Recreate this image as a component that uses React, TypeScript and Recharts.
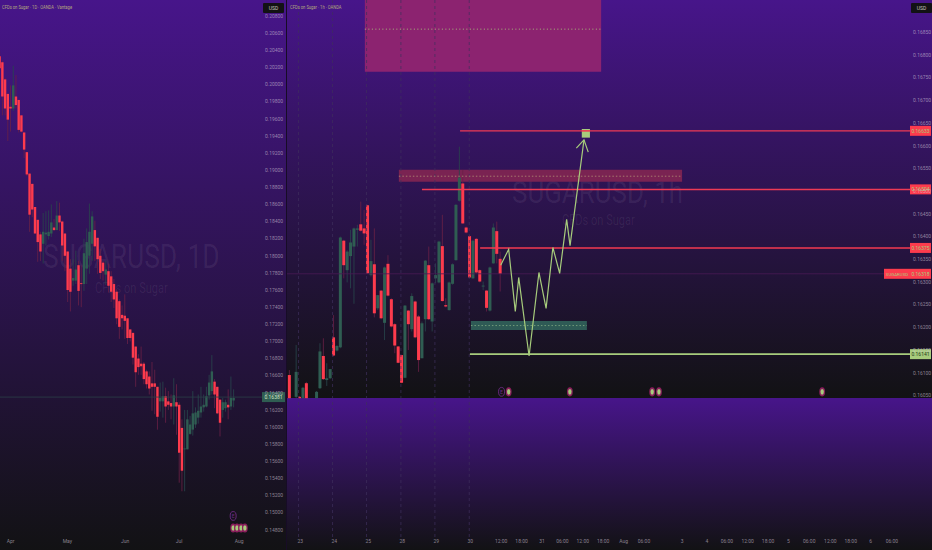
import {
  ComposedChart,
  Bar,
  Line,
  XAxis,
  YAxis,
  ReferenceArea,
  ReferenceDot,
  ReferenceLine,
} from "recharts";

const RED = "#fd3b4d";
const GREEN = "#2f5d52";
const LIME = "#a7cc7c";
const FONT = "Roboto, sans-serif";

// daily candles, left pane
const dayOpen = [
  0.2033, 0.2026, 0.2006, 0.1989, 0.1974, 0.1972, 0.1986, 0.1982, 0.1964, 0.1944, 0.1921, 0.1896, 0.1884, 0.1857, 0.1842,
  0.1825, 0.1814, 0.1825, 0.1823, 0.1826, 0.1833, 0.183, 0.1847, 0.184, 0.1826, 0.1805, 0.1785, 0.1771, 0.1771, 0.1789,
  0.1768, 0.1767, 0.1785, 0.18, 0.1814, 0.183, 0.1821, 0.18, 0.1792, 0.1778, 0.1782, 0.1776, 0.1767, 0.1758, 0.1747,
  0.1731, 0.173, 0.1727, 0.1714, 0.171, 0.1694, 0.168, 0.1674, 0.1674, 0.1665, 0.1659, 0.1651, 0.1651, 0.1647, 0.163,
  0.163, 0.1636, 0.163, 0.1628, 0.1624, 0.1629, 0.1626, 0.1599, 0.1574, 0.1574, 0.1592, 0.1597, 0.1603, 0.1611, 0.1617,
  0.1623, 0.1624, 0.1637, 0.1642, 0.1653, 0.1647, 0.1632, 0.162, 0.1622, 0.1626, 0.1624, 0.1631,
];
const dayClose = [
  0.2019, 0.1986, 0.1972, 0.1959, 0.1972, 0.1999, 0.1976, 0.1947, 0.1945, 0.1924, 0.1895, 0.1848, 0.1854, 0.1826, 0.1816,
  0.1805, 0.1828, 0.1827, 0.1828, 0.1839, 0.183, 0.1847, 0.1839, 0.1812, 0.18, 0.176, 0.1758, 0.1774, 0.1784, 0.1759,
  0.1767, 0.1803, 0.1816, 0.1828, 0.1846, 0.1811, 0.1796, 0.178, 0.1782, 0.1784, 0.1765, 0.1758, 0.1749, 0.1727, 0.1717,
  0.1727, 0.1724, 0.1704, 0.1704, 0.1681, 0.1664, 0.167, 0.1671, 0.1656, 0.165, 0.1645, 0.1647, 0.1647, 0.1612, 0.1634,
  0.1636, 0.1624, 0.1626, 0.1624, 0.1637, 0.1624, 0.157, 0.1549, 0.1575, 0.1609, 0.1603, 0.1616, 0.1617, 0.1619, 0.1624,
  0.1626, 0.1636, 0.1652, 0.1665, 0.1638, 0.1616, 0.1605, 0.1629, 0.1629, 0.1623, 0.1634, 0.1634,
];
const dayHigh = [
  0.2039, 0.2028, 0.2008, 0.199, 0.1999, 0.2022, 0.2011, 0.1982, 0.1964, 0.1944, 0.1921, 0.1896, 0.1884, 0.1857, 0.1842,
  0.1828, 0.185, 0.1852, 0.1853, 0.186, 0.1843, 0.1864, 0.1862, 0.1841, 0.1826, 0.1805, 0.1796, 0.1796, 0.1806, 0.1794,
  0.1789, 0.182, 0.1832, 0.1861, 0.1852, 0.1841, 0.1821, 0.1808, 0.1794, 0.1794, 0.1791, 0.1782, 0.1773, 0.1761, 0.1749,
  0.1742, 0.1755, 0.1727, 0.1714, 0.171, 0.1694, 0.1685, 0.1694, 0.1676, 0.1667, 0.1665, 0.1676, 0.1667, 0.1647, 0.1652,
  0.1653, 0.1646, 0.1642, 0.1638, 0.1657, 0.165, 0.1629, 0.1609, 0.162, 0.162, 0.1613, 0.1642, 0.1623, 0.1638, 0.1647,
  0.1638, 0.1647, 0.1661, 0.1684, 0.1656, 0.1647, 0.1632, 0.1634, 0.1632, 0.1644, 0.1659, 0.1644,
];
const dayLow = [
  0.2017, 0.1964, 0.1964, 0.1934, 0.1945, 0.1969, 0.1972, 0.1944, 0.1944, 0.1914, 0.1893, 0.1828, 0.1845, 0.1826, 0.1793,
  0.1794, 0.1791, 0.1812, 0.1819, 0.1822, 0.1829, 0.183, 0.1829, 0.1794, 0.1782, 0.1746, 0.1735, 0.1765, 0.1767, 0.1742,
  0.174, 0.1759, 0.1767, 0.1779, 0.1794, 0.1794, 0.1779, 0.1773, 0.1771, 0.1766, 0.1757, 0.1746, 0.1739, 0.172, 0.1703,
  0.1714, 0.1703, 0.1697, 0.17, 0.1673, 0.1647, 0.1661, 0.1661, 0.165, 0.1645, 0.1638, 0.1619, 0.1615, 0.1597, 0.1618,
  0.1611, 0.1605, 0.162, 0.1609, 0.1603, 0.1591, 0.1535, 0.1525, 0.1525, 0.1574, 0.1591, 0.159, 0.1599, 0.1604, 0.1611,
  0.1618, 0.1623, 0.1632, 0.1638, 0.1622, 0.1615, 0.1589, 0.1611, 0.1618, 0.1609, 0.162, 0.1623,
];

const dayPriceTicks = [
  0.148, 0.15, 0.152, 0.154, 0.156, 0.158, 0.16, 0.162, 0.164, 0.166, 0.168, 0.17, 0.172, 0.174, 0.176, 0.178, 0.18, 0.182,
  0.184, 0.186, 0.188, 0.19, 0.192, 0.194, 0.196, 0.198, 0.2, 0.202, 0.204, 0.206, 0.208,
];
const dayTimeTicks = [3.9, 24.8, 46, 65.8, 87.9];
const dayTimeLabels = ["Apr", "May", "Jun", "Jul", "Aug"];
const dayEventX = [85.7, 87.1, 88.6, 90];

// hourly candles, right pane (slot = bar position on the time axis)
const hourSlot = [
  0.7, 2.7, 3.7, 4.7, 5.7, 8.7, 9.7, 10.7, 11.7, 12.7, 13.7, 14.7, 15.7, 16.7, 17.7, 18.7, 19.7, 20.7, 21.7, 22.7, 23.7,
  24.7, 25.7, 26.7, 27.7, 28.7, 29.7, 30.7, 31.7, 32.7, 33.7, 34.7, 35.7, 36.7, 37.7, 38.7, 39.7, 40.7, 41.7, 42.7, 43.7,
  44.7, 45.7, 46.7, 47.7, 48.7, 49.7, 50.7, 51.7, 52.7, 53.7, 54.7, 55.7, 56.7, 57.7, 58.7, 59.7, 60.7, 61.7, 62.7,
];
const hourOpen = [
  0.16095, 0.16047, 0.16047, 0.16044, 0.16077, 0.16044, 0.16066, 0.16137, 0.16084, 0.16088, 0.16178, 0.16149, 0.16156,
  0.16391, 0.16326, 0.16357, 0.16378, 0.16415, 0.16427, 0.16418, 0.16469, 0.16315, 0.16339, 0.16242, 0.16281, 0.1621,
  0.1634, 0.16262, 0.16207, 0.16158, 0.16139, 0.16089, 0.16237, 0.16196, 0.16257, 0.16224, 0.16132, 0.16218, 0.16337,
  0.16213, 0.16308, 0.16299, 0.16379, 0.16249, 0.16238, 0.16296, 0.16348, 0.16479, 0.16517, 0.1642, 0.16401, 0.16308,
  0.16395, 0.16326, 0.16291, 0.16281, 0.16237, 0.16341, 0.16412, 0.16351,
];
const hourClose = [
  0.16044, 0.16102, 0.16044, 0.16067, 0.16044, 0.16058, 0.16147, 0.16086, 0.16088, 0.16108, 0.16138, 0.16159, 0.16398,
  0.16337, 0.16367, 0.16387, 0.16418, 0.16418, 0.16413, 0.16407, 0.16319, 0.16346, 0.16231, 0.16271, 0.1622, 0.16332,
  0.1627, 0.16202, 0.1616, 0.16122, 0.16078, 0.16248, 0.16207, 0.16269, 0.16178, 0.16128, 0.16209, 0.16347, 0.16218,
  0.16297, 0.16315, 0.16389, 0.16258, 0.16246, 0.16299, 0.16339, 0.1647, 0.1653, 0.16429, 0.16409, 0.1631, 0.16391,
  0.16321, 0.16301, 0.16292, 0.16243, 0.16332, 0.1642, 0.16362, 0.16318,
];
const hourHigh = [
  0.16106, 0.16161, 0.16049, 0.16069, 0.1608, 0.1606, 0.16165, 0.16176, 0.16121, 0.16108, 0.16227, 0.16161, 0.164, 0.16393,
  0.1637, 0.16415, 0.1642, 0.16426, 0.16477, 0.16459, 0.1647, 0.16393, 0.16418, 0.16271, 0.16282, 0.16334, 0.16359,
  0.16264, 0.16209, 0.16159, 0.16139, 0.16249, 0.16238, 0.16275, 0.16259, 0.16227, 0.16213, 0.16348, 0.16378, 0.16299,
  0.16341, 0.16391, 0.16448, 0.16264, 0.16301, 0.16341, 0.16472, 0.16598, 0.16547, 0.16422, 0.16403, 0.16393, 0.16397,
  0.16328, 0.16301, 0.16282, 0.16334, 0.16429, 0.16433, 0.16367,
];
const hourLow = [
  0.16044, 0.16044, 0.16044, 0.16044, 0.16044, 0.16044, 0.16064, 0.16084, 0.16071, 0.16086, 0.16136, 0.16147, 0.16154,
  0.16308, 0.16299, 0.16286, 0.16252, 0.16378, 0.16411, 0.16382, 0.16318, 0.16312, 0.16222, 0.16238, 0.16218, 0.16172,
  0.16268, 0.162, 0.16143, 0.16121, 0.16077, 0.16088, 0.1615, 0.16191, 0.16176, 0.16102, 0.16132, 0.16191, 0.16216, 0.16191,
  0.16297, 0.16297, 0.16257, 0.16244, 0.16237, 0.16294, 0.16347, 0.16477, 0.16428, 0.16407, 0.16309, 0.16307, 0.16319,
  0.16299, 0.16282, 0.16235, 0.16235, 0.1634, 0.16341, 0.16279,
];

const hourPriceTicks = [
  0.1605, 0.161, 0.1615, 0.162, 0.1625, 0.163, 0.1635, 0.164, 0.1645, 0.165, 0.1655, 0.166, 0.1665, 0.167, 0.1675, 0.168,
  0.1685,
];
const hourTimeTicks = [
  3.9, 13.9, 23.9, 33.9, 43.9, 53.9, 63, 69, 75, 81, 87, 93, 99, 105, 116.2, 123.5, 129.4, 135.5, 141.5, 147.5, 153.6,
  159.8, 165.8, 171.7, 177.9,
];
const hourTimeLabels = [
  "23", "24", "25", "28", "29", "30", "12:00", "18:00", "31", "06:00", "12:00", "18:00", "Aug", "06:00", "3", "4", "06:00",
  "12:00", "18:00", "5", "06:00", "12:00", "18:00", "6", "06:00",
];
const sessionBreaks = [3.4, 13.4, 23.4, 33.5, 43.5, 53.6];
const hourEventX = [65.2, 83.2, 107.4, 109.4, 157.4];

// projected path drawn on the hourly pane
const pathX = [62.85, 65.2, 67.15, 68.15, 71.2, 74.1, 76.2, 78.2, 80.2, 82.25, 83.25, 87.35];
const pathPrice = [0.16337, 0.16372, 0.16235, 0.1631, 0.16137, 0.16321, 0.16242, 0.16376, 0.16319, 0.16438, 0.1638, 0.16613];
const arrowX = [85.1, 87.35, 88.6];
const arrowPrice = [0.16595, 0.16613, 0.16586];

const dayData = dayOpen.map((open, i) => ({
  x: i,
  open,
  close: dayClose[i],
  high: dayHigh[i],
  low: dayLow[i],
  range: [dayLow[i], dayHigh[i]],
}));
const hourData = hourOpen.map((open, i) => ({
  x: hourSlot[i],
  open,
  close: hourClose[i],
  high: hourHigh[i],
  low: hourLow[i],
  range: [hourLow[i], hourHigh[i]],
}));
const pathData = pathX.map((x, i) => ({ x, price: pathPrice[i] }));
const arrowData = arrowX.map((x, i) => ({ x, price: arrowPrice[i] }));

const candle = (bodyWidth: number) => (props: any) => {
  const { x, y, width, height, payload } = props;
  const { open, close, high, low } = payload;
  const top = Math.min(y, y + height);
  const span = Math.abs(height);
  const toY = (v: number) => top + ((high - v) / (high - low)) * span;
  const up = close >= open;
  const cx = x + width / 2;
  const bodyTop = toY(Math.max(open, close));
  const bodyH = Math.max(toY(Math.min(open, close)) - bodyTop, 0.9);
  return (
    <g>
      <line
        x1={cx}
        x2={cx}
        y1={top}
        y2={top + span}
        stroke={up ? "#28474c" : "#6b2146"}
        strokeWidth={0.8}
      />
      <rect x={cx - bodyWidth / 2} y={bodyTop} width={bodyWidth} height={bodyH} fill={up ? GREEN : RED} />
    </g>
  );
};

const EventMark = (props: any) => (
  <g>
    <ellipse cx={props.cx} cy={props.cy} rx={2.9} ry={4.6} fill="#8b1f5c" />
    <ellipse cx={props.cx} cy={props.cy} rx={1.7} ry={2.8} fill={LIME} />
  </g>
);

const EventRing = (props: any) => (
  <g>
    <ellipse cx={props.cx} cy={props.cy} rx={3} ry={4.4} fill="none" stroke="#6d2a83" strokeWidth={0.9} />
    <text x={props.cx} y={props.cy + 2} fontSize={5} textAnchor="middle" fill="#6d2a83" fontFamily={FONT}>
      E
    </text>
  </g>
);

const priceTag = (text: string, fill: string, color: string, w: number) => (props: any) => (
  <g>
    <rect x={props.cx} y={props.cy - 5} width={w} height={10} fill={fill} />
    <text x={props.cx + w / 2} y={props.cy + 1.8} fontSize={5} textAnchor="middle" fill={color} fontFamily={FONT}>
      {text}
    </text>
  </g>
);

const symbolTag = (props: any) => (
  <g>
    <rect x={props.cx - 26} y={props.cy - 5} width={26} height={10} fill={RED} />
    <text x={props.cx - 13} y={props.cy + 1.8} fontSize={4.4} textAnchor="middle" fill={LIME} fontFamily={FONT}>
      SUGARUSD
    </text>
  </g>
);

const tickStyle = { fontSize: 5, fill: "rgba(214,204,220,0.6)", fontFamily: FONT };

const Watermark = ({ left, top, size, squeeze, children }: any) => (
  <div
    style={{
      position: "absolute",
      left,
      top,
      fontSize: size,
      lineHeight: 1,
      whiteSpace: "nowrap",
      fontFamily: FONT,
      color: "rgba(255,255,255,0.07)",
      transform: `scaleX(${squeeze})`,
      transformOrigin: "left top",
    }}
  >
    {children}
  </div>
);

const Caption = ({ left, children }: any) => (
  <div
    style={{
      position: "absolute",
      left,
      top: 5,
      fontSize: 5,
      lineHeight: 1,
      whiteSpace: "nowrap",
      fontFamily: FONT,
      color: "#b3a680",
      transform: "scaleX(0.82)",
      transformOrigin: "left top",
    }}
  >
    {children}
  </div>
);

const UsdBadge = ({ left }: any) => (
  <div
    style={{
      position: "absolute",
      left,
      top: 3,
      width: 21,
      height: 10,
      background: "#121214",
      borderRadius: 1,
      color: "#c9c4bd",
      fontSize: 5,
      lineHeight: "10px",
      textAlign: "center",
      fontFamily: FONT,
    }}
  >
    USD
  </div>
);

export default function App() {
  return (
    <div style={{ position: "absolute", left: 0, top: 0, width: 932, height: 550, overflow: "hidden", background: "#121214" }}>
      <div
        style={{
          position: "absolute",
          left: 0,
          top: 0,
          width: 286,
          height: 550,
          background: "linear-gradient(180deg, #47158a 0%, #121214 100%)",
        }}
      />
      <div
        style={{
          position: "absolute",
          left: 287,
          top: 0,
          width: 645,
          height: 398,
          background: "linear-gradient(180deg, #47158a 0%, #121214 100%)",
        }}
      />
      <div
        style={{
          position: "absolute",
          left: 287,
          top: 398,
          width: 645,
          height: 152,
          background: "linear-gradient(180deg, #47158a 0%, #121214 100%)",
        }}
      />

      <Watermark left={43} top={239} size={34} squeeze={0.775}>
        SUGARUSD, 1D
      </Watermark>
      <Watermark left={95} top={281} size={14} squeeze={0.79}>
        CFDs on Sugar
      </Watermark>
      <Watermark left={512} top={176} size={32} squeeze={0.81}>
        SUGARUSD, 1h
      </Watermark>
      <Watermark left={562} top={213} size={14} squeeze={0.79}>
        CFDs on Sugar
      </Watermark>

      <div style={{ position: "absolute", left: 0, top: 0 }}>
        <ComposedChart width={286} height={550} data={dayData} margin={{ top: 0, right: 0, bottom: 0, left: 0 }}>
          <XAxis
            dataKey="x"
            type="number"
            domain={[0, 96.3]}
            allowDataOverflow
            ticks={dayTimeTicks}
            interval={0}
            tickFormatter={(v: number) => dayTimeLabels[dayTimeTicks.indexOf(v)]}
            axisLine={false}
            tickLine={false}
            tickSize={0}
            tick={tickStyle}
            tickMargin={2}
            height={13}
          />
          <YAxis
            orientation="right"
            type="number"
            domain={[0.14716, 0.20987]}
            allowDataOverflow
            ticks={dayPriceTicks}
            interval={0}
            tickFormatter={(v: number) => v.toFixed(5)}
            axisLine={false}
            tickLine={false}
            tickSize={0}
            tick={tickStyle}
            tickMargin={3}
            width={24}
          />
          <ReferenceLine y={0.1635} stroke="#2b4148" strokeWidth={0.8} />
          <Bar dataKey="range" barSize={2} shape={candle(2.4)} isAnimationActive={false} />
          <ReferenceDot x={85.7} y={0.14962} shape={EventRing} ifOverflow="visible" />
          {dayEventX.map((x) => (
            <ReferenceDot key={x} x={x} y={0.14821} shape={EventMark} ifOverflow="visible" />
          ))}
          <ReferenceDot x={96.3} y={0.1635} shape={priceTag("0.16381", GREEN, "#d5e6c8", 23)} ifOverflow="visible" />
        </ComposedChart>
      </div>

      <div style={{ position: "absolute", left: 287, top: 0 }}>
        <ComposedChart width={645} height={550} data={hourData} margin={{ top: 0, right: 0, bottom: 0, left: 0 }}>
          <XAxis
            dataKey="x"
            type="number"
            domain={[0, 183.235]}
            allowDataOverflow
            ticks={hourTimeTicks}
            interval={0}
            tickFormatter={(v: number) => hourTimeLabels[hourTimeTicks.indexOf(v)]}
            axisLine={false}
            tickLine={false}
            tickSize={0}
            tick={tickStyle}
            tickMargin={2}
            height={13}
          />
          <YAxis
            orientation="right"
            type="number"
            domain={[0.157382, 0.169212]}
            allowDataOverflow
            ticks={hourPriceTicks}
            interval={0}
            tickFormatter={(v: number) => v.toFixed(5)}
            axisLine={false}
            tickLine={false}
            tickSize={0}
            tick={tickStyle}
            tickMargin={3}
            width={22}
          />
          {sessionBreaks.map((x) => (
            <ReferenceLine key={x} x={x} stroke="#3f2f5c" strokeWidth={0.7} strokeDasharray="3 3" />
          ))}
          <ReferenceArea x1={22.9} x2={92.4} y1={0.16763} y2={0.169212} fill="#8c2370" fillOpacity={1} stroke="none" />
          <ReferenceLine segment={[{ x: 22.9, y: 0.16857 }, { x: 92.4, y: 0.16857 }]} stroke={LIME} strokeWidth={0.9} strokeDasharray="1 2.5" />
          <ReferenceArea x1={32.9} x2={116.2} y1={0.16521} y2={0.16547} fill="#7a2352" fillOpacity={1} stroke="none" />
          <ReferenceLine segment={[{ x: 32.9, y: 0.16533 }, { x: 116.2, y: 0.16533 }]} stroke="#b9a07a" strokeWidth={0.7} strokeDasharray="1.5 2" />
          <ReferenceArea x1={54.1} x2={88.2} y1={0.16194} y2={0.16214} fill="#2e5a55" fillOpacity={1} stroke="none" />
          <ReferenceLine segment={[{ x: 54.1, y: 0.16204 }, { x: 88.2, y: 0.16204 }]} stroke="#8fb88a" strokeWidth={0.7} strokeDasharray="1.5 2" />
          <ReferenceLine y={0.16318} stroke="#4a1a55" strokeWidth={0.8} />
          <Bar dataKey="range" barSize={2.4} shape={candle(3)} isAnimationActive={false} />
          <ReferenceLine segment={[{ x: 50.9, y: 0.16633 }, { x: 183.235, y: 0.16633 }]} stroke="#ee3a55" strokeWidth={1.3} />
          <ReferenceLine segment={[{ x: 39.7, y: 0.16504 }, { x: 183.235, y: 0.16504 }]} stroke="#ee3a55" strokeWidth={1.5} />
          <ReferenceLine segment={[{ x: 56.8, y: 0.16375 }, { x: 183.235, y: 0.16375 }]} stroke="#f33a50" strokeWidth={1.4} />
          <ReferenceLine segment={[{ x: 53.8, y: 0.16141 }, { x: 183.235, y: 0.16141 }]} stroke={LIME} strokeWidth={1.7} />
          <ReferenceArea x1={86.7} x2={89.1} y1={0.16618} y2={0.16637} fill={LIME} fillOpacity={1} stroke="none" />
          <ReferenceLine segment={[{ x: 86.7, y: 0.16633 }, { x: 89.1, y: 0.16633 }]} stroke="#ee3a55" strokeWidth={1.1} />
          <Line data={pathData} dataKey="price" type="linear" stroke={LIME} strokeWidth={1.2} dot={false} isAnimationActive={false} />
          <Line data={arrowData} dataKey="price" type="linear" stroke={LIME} strokeWidth={1.2} dot={false} isAnimationActive={false} />
          <ReferenceDot x={63.1} y={0.16058} shape={EventRing} ifOverflow="visible" />
          {hourEventX.map((x) => (
            <ReferenceDot key={x} x={x} y={0.16058} shape={EventMark} ifOverflow="visible" />
          ))}
          <ReferenceDot x={183.235} y={0.16633} shape={priceTag("0.16633", RED, LIME, 21)} ifOverflow="visible" />
          <ReferenceDot x={183.235} y={0.16504} shape={priceTag("0.16504", RED, LIME, 21)} ifOverflow="visible" />
          <ReferenceDot x={183.235} y={0.16375} shape={priceTag("0.16375", RED, LIME, 21)} ifOverflow="visible" />
          <ReferenceDot x={183.235} y={0.16318} shape={priceTag("0.16318", RED, LIME, 21)} ifOverflow="visible" />
          <ReferenceDot x={183.235} y={0.16318} shape={symbolTag} ifOverflow="visible" />
          <ReferenceDot x={183.235} y={0.16141} shape={priceTag("0.16141", LIME, "#2a3a22", 21)} ifOverflow="visible" />
        </ComposedChart>
      </div>

      <div style={{ position: "absolute", left: 286, top: 0, width: 1, height: 550, background: "#170c26" }} />
      <UsdBadge left={263} />
      <UsdBadge left={911} />
      <Caption left={2}>CFDs on Sugar · 1D · OANDA · Vantage</Caption>
      <Caption left={290}>CFDs on Sugar · 1h · OANDA</Caption>
    </div>
  );
}
